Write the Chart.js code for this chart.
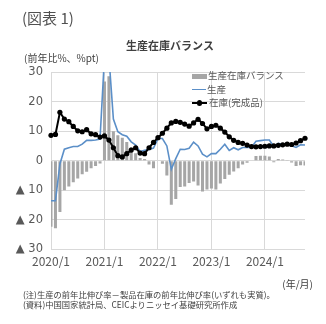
<!DOCTYPE html>
<html lang="ja">
<head>
<meta charset="utf-8">
<script src="https://cdn.jsdelivr.net/npm/chart.js@4.4.1/dist/chart.umd.min.js"></script>
<style>
  body { margin: 0; background: #fff; }
  #wrap { position: relative; width: 326px; height: 324px; overflow: hidden; font-family: "Noto Sans CJK JP", sans-serif; color: #404040; }
  #wrap canvas { position: absolute; left: 0; top: 0; }
  .t { position: absolute; white-space: nowrap; line-height: 1; }
  .sw { position: absolute; }
</style>
</head>
<body>
<div id="wrap">
  <canvas id="chart" width="326" height="324"></canvas>
  <div class="t" style="left:22px;top:10px;font-size:15px;color:#505050;">(図表 1)</div>
  <div class="t" style="left:170px;top:39.5px;font-size:11px;font-weight:bold;transform:translateX(-50%);">生産在庫バランス</div>
  <div class="t" style="left:24px;top:52.5px;font-size:10px;">(前年比%、%pt)</div>

  <!-- 凡例 -->
  <div class="sw" style="left:192px;top:73.5px;width:15px;height:5px;background:#a6a6a6;"></div>
  <div class="t" style="left:208px;top:71px;font-size:9.5px;color:#595959;">生産在庫バランス</div>
  <div class="sw" style="left:192px;top:88.5px;width:14px;height:1.6px;background:#5b8fc8;"></div>
  <div class="t" style="left:207px;top:84.5px;font-size:9.5px;color:#595959;">生産</div>
  <div class="sw" style="left:192px;top:102px;width:15px;height:2px;background:#000;"></div>
  <div class="sw" style="left:196.8px;top:100.4px;width:5.2px;height:5.2px;border-radius:50%;background:#000;"></div>
  <div class="t" style="left:209px;top:98px;font-size:9.5px;color:#595959;">在庫(完成品)</div>

  <div class="t" style="right:13px;top:278.5px;font-size:10px;">(年/月)</div>
  <div class="t" style="left:23px;top:290px;font-size:8.3px;">(注)生産の前年比伸び率－製品在庫の前年比伸び率(いずれも実質)。</div>
  <div class="t" style="left:23px;top:299.5px;font-size:8.3px;">(資料)中国国家統計局、CEICよりニッセイ基礎研究所作成</div>
</div>
<script>
const months = [
  '2020/1','2020/2','2020/3','2020/4','2020/5','2020/6','2020/7','2020/8','2020/9','2020/10','2020/11','2020/12',
  '2021/1','2021/2','2021/3','2021/4','2021/5','2021/6','2021/7','2021/8','2021/9','2021/10','2021/11','2021/12',
  '2022/1','2022/2','2022/3','2022/4','2022/5','2022/6','2022/7','2022/8','2022/9','2022/10','2022/11','2022/12',
  '2023/1','2023/2','2023/3','2023/4','2023/5','2023/6','2023/7','2023/8','2023/9','2023/10','2023/11','2023/12',
  '2024/1','2024/2','2024/3','2024/4','2024/5','2024/6','2024/7','2024/8','2024/9','2024/10'
];
const yearTicks = ['2020/1', '2021/1', '2022/1', '2023/1', '2024/1'];

// 生産在庫バランス (%pt)
const balance = [
  -22.3, -22.8, -17.3, -10.0, -8.7, -7.3, -6.0, -4.6, -3.7, -2.5, -1.8, -0.9,
  26.8, 28.6, 10.0, 8.6, 7.8, 6.3, 4.6, 2.5, 0.9, 0.6, -1.3, -2.5,
  -0.2, -1.0, -5.0, -14.9, -12.9, -8.9, -8.7, -7.5, -7.0, -8.4, -10.4, -9.7,
  -9.4, -9.7, -7.7, -6.2, -4.7, -3.6, -2.5, -1.3, -0.7, -0.2, 1.6, 1.7,
  1.7, 1.4, -0.5, 0.6, 0.4, 0.1, -0.6, -1.8, -1.5, -1.6
];
// 生産 (前年比%)
const production = [
  -13.5, -13.5, -1.1, 3.9, 4.4, 4.8, 4.8, 5.6, 6.9, 6.9, 7.0, 7.3,
  35.1, 35.1, 14.1, 9.8, 8.8, 8.3, 6.4, 5.3, 3.1, 3.5, 3.8, 4.3,
  7.5, 7.5, 5.0, -2.9, 0.7, 3.9, 3.8, 4.2, 6.3, 5.0, 2.2, 1.3,
  2.4, 2.4, 3.9, 5.6, 3.5, 4.4, 3.7, 4.5, 4.5, 4.6, 6.6, 6.8,
  7.0, 7.0, 4.8, 5.9, 5.6, 5.3, 5.1, 4.5, 5.4, 5.3
];
// 在庫(完成品) (前年比%)
const inventory = [
  8.6, 8.9, 16.4, 14.1, 13.2, 11.6, 10.1, 9.8, 10.5, 9.1, 8.8, 8.0,
  8.4, 7.0, 4.4, 1.7, 1.3, 2.4, 3.6, 4.4, 2.6, 2.4, 4.4, 6.2,
  7.8, 9.3, 11.0, 12.8, 13.3, 13.0, 12.4, 11.7, 12.8, 14.0, 12.6, 10.8,
  11.6, 12.0, 11.0, 9.7, 8.1, 6.9, 6.2, 5.9, 5.3, 4.8, 4.7, 4.8,
  4.9, 5.0, 5.0, 5.2, 5.4, 5.6, 5.5, 6.0, 6.8, 7.6
];

const xFont = { family: '"Noto Sans CJK JP", sans-serif', size: 12 };
const yFont = { family: '"DejaVu Sans", sans-serif', size: 11.5 };
const tickColor = '#595959';
const gridColor = '#d9d9d9';

new Chart(document.getElementById('chart'), {
  type: 'bar',
  data: {
    labels: months,
    datasets: [{
      type: 'line',
      label: '在庫(完成品)',
      data: inventory,
      borderColor: '#000',
      borderWidth: 2,
      pointRadius: 2.6,
      pointBackgroundColor: '#000',
      pointBorderWidth: 0,
      tension: 0,
      order: 1
    }, {
      type: 'line',
      label: '生産',
      data: production,
      borderColor: '#5b8fc8',
      borderWidth: 1.6,
      pointRadius: 0,
      tension: 0,
      order: 2
    }, {
      type: 'bar',
      label: '生産在庫バランス',
      data: balance,
      backgroundColor: '#a6a6a6',
      barPercentage: 1,
      categoryPercentage: 0.68,
      order: 3
    }]
  },
  options: {
    responsive: false,
    animation: false,
    devicePixelRatio: 1,
    layout: { padding: { left: 0, top: 72, right: 21, bottom: 54.5 } },
    plugins: { legend: { display: false }, tooltip: { enabled: false } },
    scales: {
      x: {
        offset: false,
        border: { display: false },
        grid: {
          offset: false,
          drawTicks: false,
          color: ctx => (ctx.tick && yearTicks.includes(months[ctx.index])) ? gridColor : 'rgba(0,0,0,0)'
        },
        ticks: {
          autoSkip: false,
          maxRotation: 0,
          padding: 5,
          font: xFont,
          color: tickColor,
          callback: (v, i) => yearTicks.includes(months[i]) ? months[i] : ''
        },
        afterFit: s => { s.height = 20; }
      },
      y: {
        min: -30,
        max: 30,
        border: { display: false },
        grid: { color: gridColor, drawTicks: false },
        ticks: {
          stepSize: 10,
          padding: 8,
          font: yFont,
          color: tickColor,
          callback: v => v < 0 ? '▲ ' + (-v) : String(v)
        },
        afterFit: s => { s.width = 51; }
      }
    }
  }
});
</script>
</body>
</html>
